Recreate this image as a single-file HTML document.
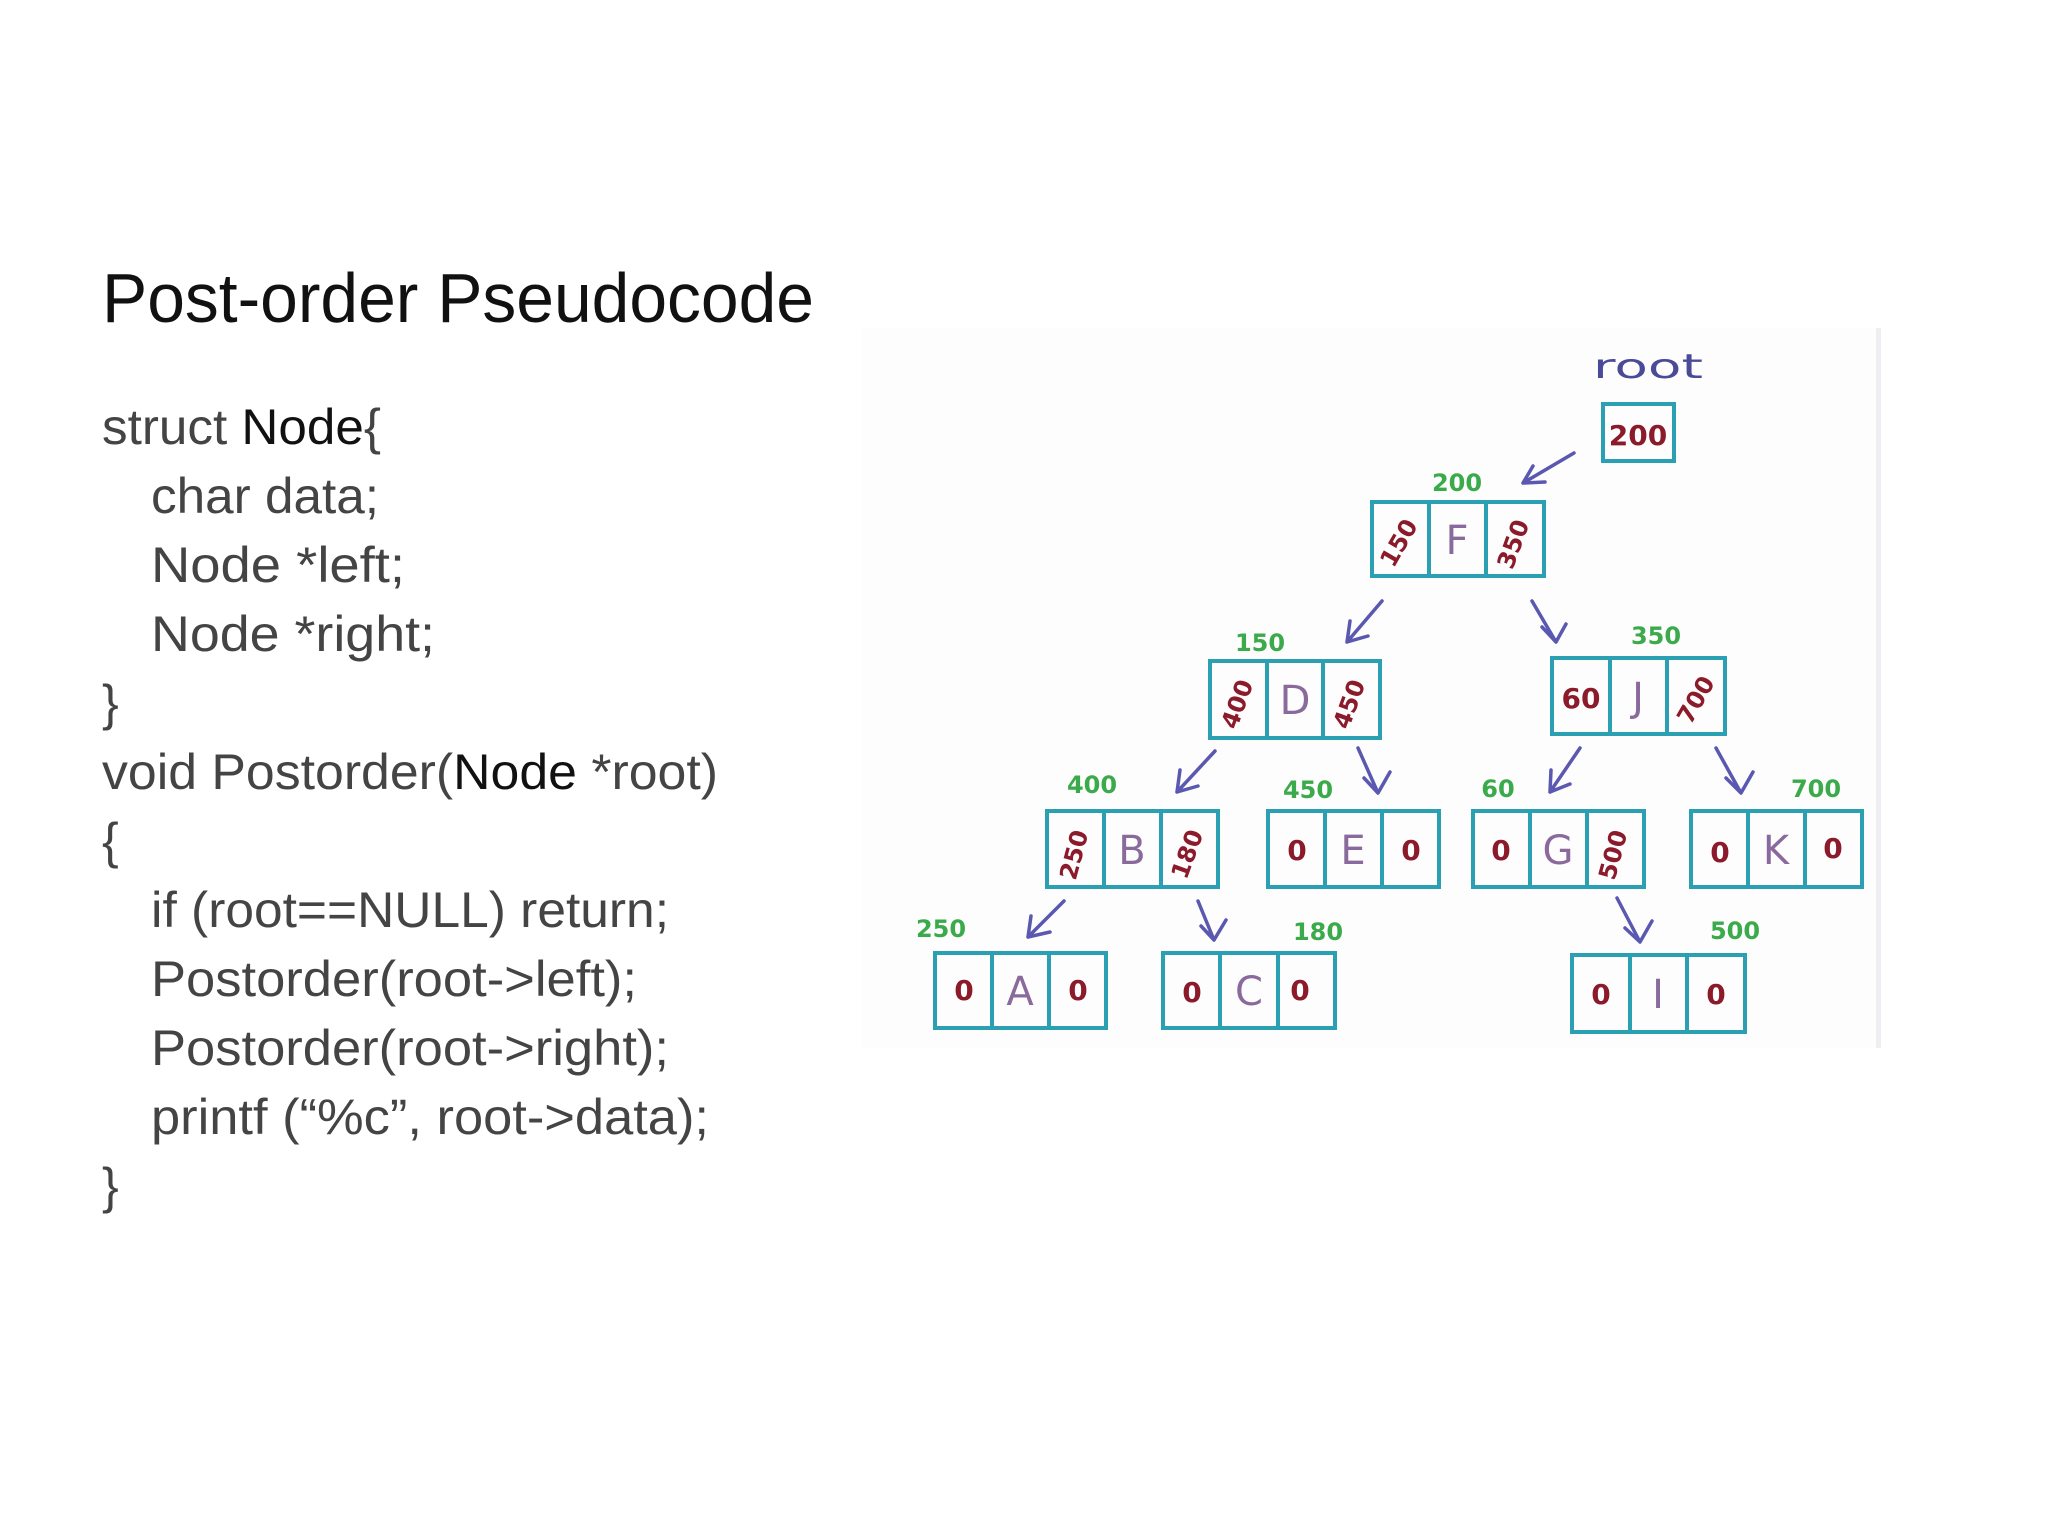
<!DOCTYPE html>
<html><head><meta charset="utf-8"><style>
html,body{margin:0;padding:0;background:#fff;}
svg{display:block;}
</style></head><body>
<svg width="2048" height="1536" viewBox="0 0 2048 1536" xmlns="http://www.w3.org/2000/svg">
<rect width="2048" height="1536" fill="#fff"/>
<rect x="862" y="328" width="1016" height="720" fill="#fdfdfd"/>
<rect x="1876" y="328" width="5" height="720" fill="#eeeef3"/>
<g font-family="Liberation Sans, sans-serif">
<text x="102" y="322" font-size="70" fill="#111" textLength="712" lengthAdjust="spacingAndGlyphs">Post-order Pseudocode</text>
<g font-size="50" fill="#444">
<text x="102" y="444" textLength="279" lengthAdjust="spacingAndGlyphs">struct <tspan fill="#111">Node</tspan>{</text>
<text x="151" y="513" textLength="228" lengthAdjust="spacingAndGlyphs">char data;</text>
<text x="151" y="582" textLength="254" lengthAdjust="spacingAndGlyphs">Node *left;</text>
<text x="151" y="651" textLength="284" lengthAdjust="spacingAndGlyphs">Node *right;</text>
<text x="102" y="720">}</text>
<text x="102" y="789" textLength="616" lengthAdjust="spacingAndGlyphs">void Postorder(<tspan fill="#111">Node</tspan> *root)</text>
<text x="102" y="858">{</text>
<text x="151" y="927" textLength="518" lengthAdjust="spacingAndGlyphs">if (root==NULL) return;</text>
<text x="151" y="996" textLength="486" lengthAdjust="spacingAndGlyphs">Postorder(root-&gt;left);</text>
<text x="151" y="1065" textLength="518" lengthAdjust="spacingAndGlyphs">Postorder(root-&gt;right);</text>
<text x="151" y="1134" textLength="558" lengthAdjust="spacingAndGlyphs">printf (“%c”, root-&gt;data);</text>
<text x="102" y="1203">}</text>
</g>
</g>
<!-- tree -->
<g font-family="DejaVu Sans, sans-serif">
<text x="1593" y="378" font-size="34" fill="#4a4a98" textLength="110" lengthAdjust="spacingAndGlyphs">root</text>
<rect x="1603" y="404" width="71" height="57" fill="none" stroke="#2aa0b2" stroke-width="4"/>
<text x="1638" y="445" font-size="28" font-weight="bold" fill="#8b1a2a" text-anchor="middle">200</text>
<g font-size="24" font-weight="bold" fill="#3aaa4a" text-anchor="middle">
<text x="1457" y="491">200</text>
<text x="1260" y="651">150</text>
<text x="1656" y="644">350</text>
<text x="1092" y="793">400</text>
<text x="1308" y="798">450</text>
<text x="1498" y="797">60</text>
<text x="1816" y="797">700</text>
<text x="941" y="937">250</text>
<text x="1318" y="940">180</text>
<text x="1735" y="939">500</text>
</g>
<g fill="none" stroke="#2aa0b2" stroke-width="4">
<rect x="1372" y="502" width="172" height="74"/><line x1="1429" y1="502" x2="1429" y2="576"/><line x1="1486" y1="502" x2="1486" y2="576"/>
<rect x="1210" y="661" width="170" height="77"/><line x1="1267" y1="661" x2="1267" y2="738"/><line x1="1323" y1="661" x2="1323" y2="738"/>
<rect x="1552" y="658" width="173" height="76"/><line x1="1610" y1="658" x2="1610" y2="734"/><line x1="1667" y1="658" x2="1667" y2="734"/>
<rect x="1047" y="811" width="171" height="76"/><line x1="1104" y1="811" x2="1104" y2="887"/><line x1="1161" y1="811" x2="1161" y2="887"/>
<rect x="1268" y="811" width="171" height="76"/><line x1="1325" y1="811" x2="1325" y2="887"/><line x1="1382" y1="811" x2="1382" y2="887"/>
<rect x="1473" y="811" width="171" height="76"/><line x1="1530" y1="811" x2="1530" y2="887"/><line x1="1587" y1="811" x2="1587" y2="887"/>
<rect x="1691" y="811" width="171" height="76"/><line x1="1748" y1="811" x2="1748" y2="887"/><line x1="1805" y1="811" x2="1805" y2="887"/>
<rect x="935" y="953" width="171" height="75"/><line x1="992" y1="953" x2="992" y2="1028"/><line x1="1049" y1="953" x2="1049" y2="1028"/>
<rect x="1163" y="953" width="172" height="75"/><line x1="1220" y1="953" x2="1220" y2="1028"/><line x1="1278" y1="953" x2="1278" y2="1028"/>
<rect x="1572" y="955" width="173" height="77"/><line x1="1630" y1="955" x2="1630" y2="1032"/><line x1="1687" y1="955" x2="1687" y2="1032"/>
</g>
<g font-size="40" fill="#8a6a9c" text-anchor="middle">
<text x="1457" y="554">F</text>
<text x="1295" y="714">D</text>
<text x="1638" y="711">J</text>
<text x="1132" y="864">B</text>
<text x="1353" y="864">E</text>
<text x="1558" y="864">G</text>
<text x="1776" y="864">K</text>
<text x="1020" y="1005">A</text>
<text x="1249" y="1005">C</text>
<text x="1658" y="1008">I</text>
</g>
<g font-size="24" font-weight="bold" fill="#8b1a2a" text-anchor="middle">
<text transform="translate(1406,547) rotate(-60)">150</text>
<text transform="translate(1521,547) rotate(-70)">350</text>
<text transform="translate(1245,707) rotate(-70)">400</text>
<text transform="translate(1357,707) rotate(-70)">450</text>
<text x="1581" y="708" font-size="28">60</text>
<text transform="translate(1703,704) rotate(-60)">700</text>
<text transform="translate(1082,857) rotate(-75)">250</text>
<text transform="translate(1195,857) rotate(-70)">180</text>
<text transform="translate(1621,857) rotate(-75)">500</text>
</g>
<g font-size="28" font-weight="bold" fill="#8b1a2a" text-anchor="middle">
<text x="1297" y="860">0</text><text x="1411" y="860">0</text>
<text x="1501" y="860">0</text>
<text x="1720" y="862">0</text><text x="1833" y="858">0</text>
<text x="964" y="1000">0</text><text x="1078" y="1000">0</text>
<text x="1192" y="1002">0</text><text x="1300" y="1000">0</text>
<text x="1601" y="1004">0</text><text x="1716" y="1004">0</text>
</g>
<g stroke="#5a58b0" stroke-width="3.5" fill="none" stroke-linecap="round" stroke-linejoin="round">
<path d="M1574,453 L1523,483 M1523,483 L1545,482 M1523,483 L1533,466"/>
<path d="M1382,601 L1347,642 M1347,642 L1368,636 M1347,642 L1350,621"/>
<path d="M1532,601 L1556,642 M1556,642 L1542,627 M1556,642 L1566,624"/>
<path d="M1215,751 L1177,792 M1177,792 L1198,786 M1177,792 L1180,770"/>
<path d="M1358,748 L1378,793 M1378,793 L1364,778 M1378,793 L1390,772"/>
<path d="M1580,748 L1550,792 M1550,792 L1570,784 M1550,792 L1551,770"/>
<path d="M1716,748 L1741,793 M1741,793 L1726,778 M1741,793 L1753,772"/>
<path d="M1064,901 L1028,937 M1028,937 L1050,932 M1028,937 L1031,916"/>
<path d="M1198,901 L1214,940 M1214,940 L1201,926 M1214,940 L1226,920"/>
<path d="M1617,898 L1640,942 M1640,942 L1625,928 M1640,942 L1652,921"/>
</g>
</g>
</svg>
</body></html>
